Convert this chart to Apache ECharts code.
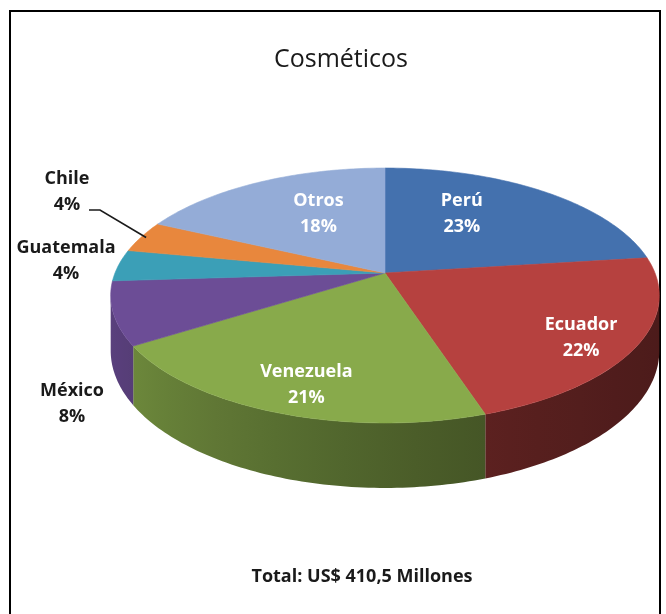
<!DOCTYPE html>
<html>
<head>
<meta charset="utf-8">
<script src="https://cdn.jsdelivr.net/npm/echarts@6/dist/echarts.min.js"></script>
<style>
  html, body { margin: 0; padding: 0; background: #fff; }
  #chart { width: 666px; height: 614px; }
</style>
</head>
<body>
<div id="chart"></div>
<script>
// ---- data ----
const countries = ['Perú', 'Ecuador', 'Venezuela', 'México', 'Guatemala', 'Chile', 'Otros'];
const shares = [23, 22, 21, 8, 4, 4, 18];
const titleText = 'Cosméticos';
const totalText = 'Total: US$ 410,5 Millones';

// ---- styling / layout ----
const palette = ['#4471ae', '#b6413f', '#88aa4b', '#6c4d96', '#3b9fb7', '#e8873d', '#94acd7'];
const FONT = '"Open Sans", Lato, sans-serif';
// inside labels sit on the slice's mid-angle, scaled by [horizontal, vertical] fractions of the radius
const insideLabelRadius = { 'Perú': [0.43, 0.64], 'Ecuador': [0.86, 0.98], 'Venezuela': [0.86, 0.96], 'Otros': [0.46, 0.57] };
// outside labels are pinned beside the pie
const outsideLabelPos = { 'México': [72, 404], 'Guatemala': [66, 261], 'Chile': [67, 192] };

// tilted pie with a little perspective: front rim is nearer, hence larger
const CX = 385, CY = 273, RX = 270, RY = 123.5, K = 0.1765, DEPTH = 53.5;
const SIL = Math.asin(K); // angle where the side silhouette is widest

function project(theta, r, drop) {
  const u = Math.cos(theta) * r, v = Math.sin(theta) * r;
  const w = 1 / (1 - K * v);
  return [CX + RX * u * w, CY + RY * v * w + (drop || 0) * w];
}

const total = shares.reduce((a, b) => a + b, 0);
const startAngle = [], endAngle = [];
{
  let acc = 0;
  shares.forEach((s) => {
    startAngle.push(-Math.PI / 2 + 2 * Math.PI * acc / total);
    acc += s;
    endAngle.push(-Math.PI / 2 + 2 * Math.PI * acc / total);
  });
}

function arc(a0, a1, r, drop) {
  const pts = [];
  const n = Math.max(4, Math.ceil(Math.abs(a1 - a0) / (Math.PI / 180)));
  for (let i = 0; i <= n; i++) pts.push(project(a0 + (a1 - a0) * i / n, r, drop));
  return pts;
}

function shade(hex, f) {
  const n = parseInt(hex.slice(1), 16);
  const r = Math.round(((n >> 16) & 255) * f), g = Math.round(((n >> 8) & 255) * f), b = Math.round((n & 255) * f);
  return 'rgb(' + r + ',' + g + ',' + b + ')';
}
// light from the upper left: walls facing left are brighter
function wallFactor(theta) {
  return 0.42 + 0.42 * Math.pow((1 - Math.cos(theta)) / 2, 1.5);
}

const seriesData = countries.map((c, i) => ({ name: c, value: shares[i] }));

function renderWall(params, api) {
  const i = params.dataIndex;
  const a0 = Math.max(startAngle[i], SIL);
  const a1 = Math.min(endAngle[i], Math.PI - SIL);
  if (a1 <= a0) return { type: 'group', children: [] };
  const top = arc(a0, a1, 1, 0);
  const bottom = arc(a1, a0, 1, DEPTH);
  const xr = top[0][0], xl = top[top.length - 1][0];
  const stops = [];
  for (let s = 0; s <= 6; s++) {
    const t = a0 + (a1 - a0) * s / 6;
    const x = project(t, 1, 0)[0];
    stops.push({ offset: Math.min(1, Math.max(0, (x - xl) / (xr - xl || 1))), color: shade(palette[i], wallFactor(t)) });
  }
  stops.sort((p, q) => p.offset - q.offset);
  return {
    type: 'polygon',
    shape: { points: top.concat(bottom) },
    style: {
      fill: new echarts.graphic.LinearGradient(xl, 0, xr, 0, stops, true),
      stroke: null
    }
  };
}

function renderTop(params, api) {
  const i = params.dataIndex;
  const pts = [[CX, CY]].concat(arc(startAngle[i], endAngle[i], 1, 0));
  return {
    type: 'polygon',
    shape: { points: pts },
    style: { fill: palette[i], stroke: palette[i], lineWidth: 0.6 }
  };
}

function renderLabel(params, api) {
  const i = params.dataIndex;
  const name = countries[i];
  const pct = api.value(0) + '%';
  const mid = (startAngle[i] + endAngle[i]) / 2;
  const children = [];
  if (insideLabelRadius[name] != null) {
    const f = insideLabelRadius[name];
    const x = CX + RX * Math.cos(mid) * f[0];
    const y = CY + RY * Math.sin(mid) * f[1];
    children.push({
      type: 'text',
      style: {
        x: x, y: y, text: name + '\n' + pct, fill: '#ffffff',
        font: 'bold 18px ' + FONT, lineHeight: 26, align: 'center', verticalAlign: 'middle'
      }
    });
  } else {
    const p = outsideLabelPos[name];
    children.push({
      type: 'text',
      style: {
        x: p[0], y: p[1], text: name + '\n' + pct, fill: '#1a1a1a',
        font: 'bold 18px ' + FONT, lineHeight: 26, align: 'center', verticalAlign: 'middle'
      }
    });
    if (name === 'Chile') {
      const rim = project(mid, 0.98, 0);
      const sx = p[0] + 22, sy = p[1] + 18;
      children.push({
        type: 'polyline',
        shape: { points: [[sx, sy], [sx + 11, sy], rim] },
        style: { stroke: '#1a1a1a', lineWidth: 1.6, fill: null }
      });
    }
  }
  return { type: 'group', children: children };
}

const chart = echarts.init(document.getElementById('chart'), null, { renderer: 'canvas' });
chart.setOption({
  backgroundColor: '#ffffff',
  animation: false,
  graphic: [
    { type: 'rect', shape: { x: 10, y: 11, width: 650, height: 640 }, style: { fill: null, stroke: '#000', lineWidth: 2 }, z: 0 },
    { type: 'text', x: 341, y: 60, style: { text: titleText, font: '25px ' + FONT, fill: '#1a1a1a', align: 'center', verticalAlign: 'middle' }, z: 10 },
    { type: 'text', x: 362, y: 577, style: { text: totalText, font: 'bold 18px ' + FONT, fill: '#1a1a1a', align: 'center', verticalAlign: 'middle' }, z: 10 }
  ],
  series: [
    { type: 'custom', coordinateSystem: 'none', renderItem: renderWall, data: seriesData, z: 1, silent: true },
    { type: 'custom', coordinateSystem: 'none', renderItem: renderTop, data: seriesData, z: 2, silent: true },
    { type: 'custom', coordinateSystem: 'none', renderItem: renderLabel, data: seriesData, z: 3, silent: true }
  ]
});
</script>
</body>
</html>
